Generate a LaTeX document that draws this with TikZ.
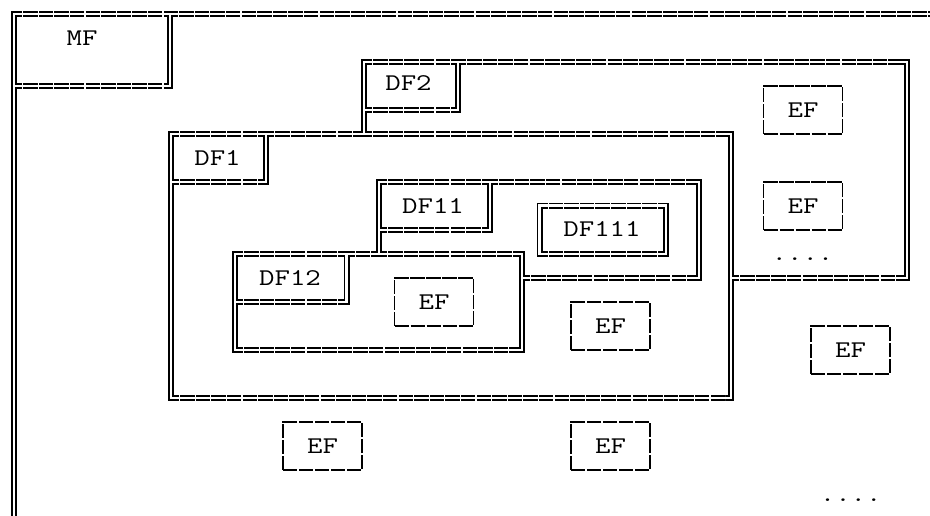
\documentclass[tikz,border=0pt]{standalone}
\usepackage{fontspec}
\newcommand\reffont{\ttfamily\fontsize{24}{24}\selectfont}
\newcommand\T[1]{\scalebox{1.25}[1]{#1}}
\tikzset{
  dbl/.style={draw=black, double=white, double distance=2.4pt, line width=1.8pt, line cap=butt, line join=miter},
  cellgap/.style={draw=white, line width=7pt, line cap=butt, dash pattern=on 1.1pt off 14.5pt},
  efbox/.style={draw=black, line width=1.7pt, dash pattern=on 14.4pt off 1.6pt, minimum width=79pt, minimum height=48pt, inner sep=0pt, font=\reffont},
  lbl/.style={inner sep=0pt, font=\reffont},
}
\begin{document}
\begin{tikzpicture}[x=1pt,y=-1pt]
\useasboundingbox (0,0) rectangle (930,515);
\clip (0,0) rectangle (930,515);
% MF frame
\draw[dbl] (14,540) -- (14,14) -- (950,14);
\draw[dbl] (170,15.2) -- (170,86) -- (15.2,86);
% DF1 frame
\draw[dbl] (171,134) rectangle (731,398);
\draw[dbl] (266,135.2) -- (266,182) -- (172.2,182);
% DF2 frame (partly hidden behind DF1)
\draw[dbl] (364,132.8) -- (364,62) -- (907,62) -- (907,278) -- (732.2,278);
\draw[dbl] (458,63.2) -- (458,110) -- (365.2,110);
% DF12 frame
\draw[dbl] (235,254) rectangle (522,350);
\draw[dbl] (346.5,255.2) -- (346.5,302) -- (236.2,302);
% DF11 frame (partly hidden behind DF12)
\draw[dbl] (379,252.8) -- (379,182) -- (699,182) -- (699,278) -- (523.2,278);
\draw[dbl] (490,183.2) -- (490,230) -- (380.2,230);
% DF111
\draw[dbl] (539.5,205.5) rectangle (666,254);
% small breaks between the cells of the horizontal double lines
\foreach \yy/\xa/\xb in {14/22/164, 14/178/930, 86/22/164,
  62/372/452, 62/466/901, 110/372/452, 278/739/901,
  134/179/260, 134/274/358, 134/372/725, 182/179/260, 398/179/725,
  182/387/484, 182/498/693, 230/387/484, 278/530/693,
  254/243/340.5, 254/354.5/373, 254/387/516, 302/243/340.5, 350/243/516,
  205.5/547.5/660, 254/547.5/660}
  \draw[cellgap] (\xa,\yy) -- (\xb,\yy);
% labels
\node[lbl] (mf) at (82,38) {\T{MF}};
\node[lbl] (df2) at (408.5,83) {\T{DF2}};
\node[lbl] (df1) at (217.5,158) {\T{DF1}};
\node[lbl] (df11) at (433,206) {\T{DF11}};
\node[lbl] (df111) at (602,229.5) {\T{DF111}};
\node[lbl] (df12) at (290,278) {\T{DF12}};
% EF boxes
\node[efbox] (ef1) at (803,110) {\T{EF}};
\node[efbox] (ef2) at (803,206) {\T{EF}};
\node[efbox] (ef3) at (434,302) {\T{EF}};
\node[efbox] (ef4) at (610.5,326) {\T{EF}};
\node[efbox] (ef5) at (850.5,350) {\T{EF}};
\node[efbox] (ef6) at (322.5,446) {\T{EF}};
\node[efbox] (ef7) at (610.5,446) {\T{EF}};
% dots
\node[lbl, anchor=base] (dots1) at (802.5,260.6) {\T{....}};
\node[lbl, anchor=base] (dots2) at (850.7,501.3) {\T{....}};
\end{tikzpicture}
\end{document}
